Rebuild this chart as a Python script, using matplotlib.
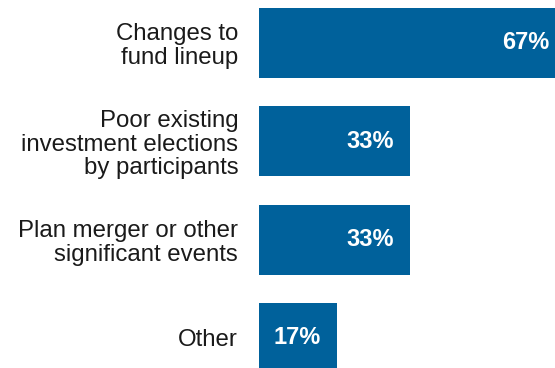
import matplotlib
matplotlib.use("Agg")
import matplotlib.pyplot as plt

reasons = ["Changes to\nfund lineup",
           "Poor existing\ninvestment elections\nby participants",
           "Plan merger or other\nsignificant events",
           "Other"]
shares = [67, 33, 33, 17]

plt.rcParams["font.family"] = ["Liberation Sans", "DejaVu Sans"]
bar_color = "#00619b"

fig = plt.figure(figsize=(5.55, 3.68), dpi=100)
ax = fig.add_axes([259 / 555, 0, 1 - 259 / 555, 1])

pos = list(range(len(reasons)))
ax.barh(pos, shares, height=0.712, color=bar_color)
ax.set_xlim(0, 64.5)
ax.set_ylim(3.306, -0.437)

for p, v in zip(pos, shares):
    ax.annotate(f"{v}%", xy=(v, p), xytext=(-12, 0), textcoords="offset points",
                ha="right", va="center", color="white", fontsize=17,
                fontweight="bold", annotation_clip=False)

ax.set_yticks(pos)
ax.set_yticklabels(reasons, fontsize=17.3, color="#1a1a1a")
for t in ax.get_yticklabels():
    t.set_multialignment("right")
    t.set_linespacing(1.1)
ax.tick_params(axis="y", length=0, pad=15)
ax.set_xticks([])
for s in ax.spines.values():
    s.set_visible(False)

fig.savefig("out.png", dpi=100)
